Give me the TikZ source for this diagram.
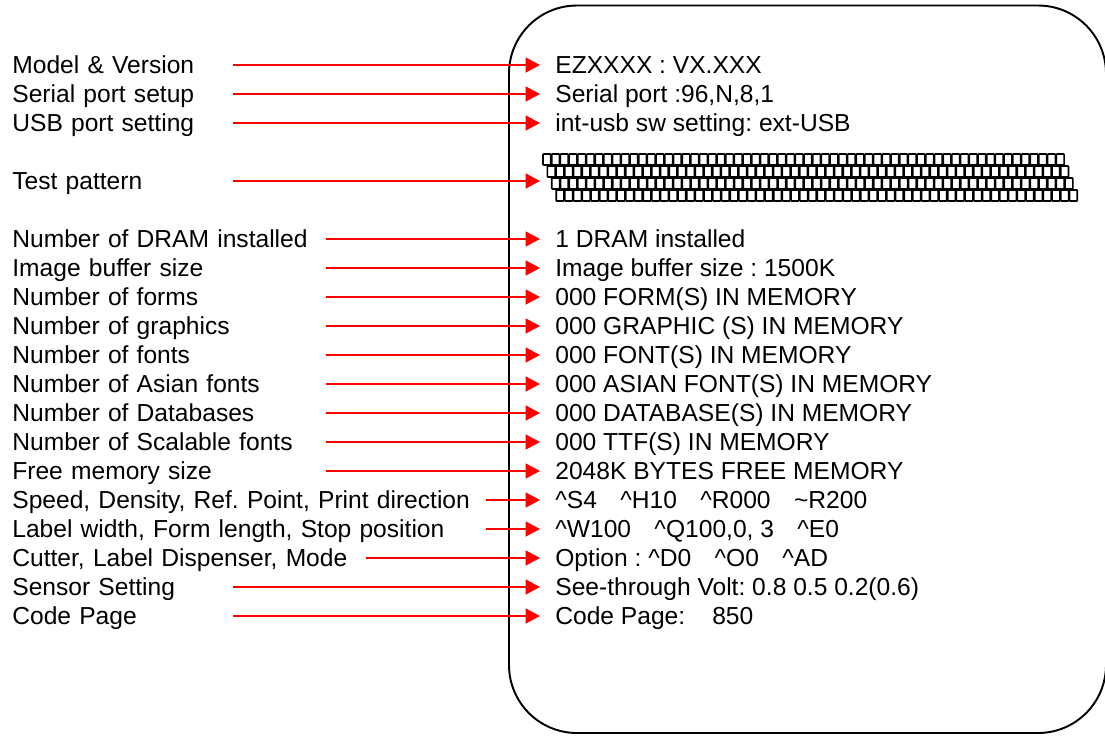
\documentclass[tikz,border=0pt]{standalone}
\usepackage{fontspec}
\setmainfont{Liberation Sans}
\usepackage{tikz}
\usetikzlibrary{arrows.meta,positioning}
\frenchspacing
\definecolor{ArrowRed}{HTML}{FF0000}
\tikzset{
  % Left labels (east anchor = arrow start)
  LB/.style={anchor=west,inner sep=0pt,align=left,
             text height=10pt,text depth=0pt},
  lA/.style={LB,text width=4.4cm},
  lB/.style={LB,text width=6.26cm},
  lC/.style={LB,text width=9.46cm},
  lD/.style={LB,text width=7.06cm},
  % Printed values
  VL/.style={anchor=west,inner sep=0pt,text height=10pt,text depth=0pt},
  % Arrow
  arr/.style={-{Triangle[length=0.29cm,width=0.3cm]},line width=1.1pt,
              draw=ArrowRed,shorten >=0.3cm},
  % Label outline and pattern cells
  box/.style={draw,line width=1.1pt,rounded corners=1.36cm},
  cell/.style={draw,line width=0.95pt,rounded corners=0.4pt}
}
\newcommand{\crt}{\textasciicircum}
\begin{document}
\begin{tikzpicture}[x=0.02cm,y=-0.02cm,
    every node/.style={font=\fontsize{14pt}{16pt}\selectfont}]
  \useasboundingbox (0,0) rectangle (1105,735);
  \draw[box] (509,5.5) rectangle (1106,733);

  \node[lA] (lmodel)  at (12,65)  {Model \& Version};
  \node[lA] (lserial) at (12,94)  {Serial port setup};
  \node[lA] (lusb)    at (12,123) {USB port setting};
  \node[lA] (ltest)   at (12,181) {Test pattern};
  \node[lB] (ldram)   at (12,239) {Number of DRAM installed};
  \node[lB] (lbuf)    at (12,268) {Image buffer size};
  \node[lB] (lform)   at (12,297) {Number of forms};
  \node[lB] (lgraph)  at (12,326) {Number of graphics};
  \node[lB] (lfont)   at (12,355) {Number of fonts};
  \node[lB] (lasian)  at (12,384) {Number of Asian fonts};
  \node[lB] (ldb)     at (12,413) {Number of Databases};
  \node[lB] (lttf)    at (12,442) {Number of Scalable fonts};
  \node[lB] (lfree)   at (12,471) {Free memory size};
  \node[lC] (lspeed)  at (12,500) {Speed, Density, Ref. Point, Print direction};
  \node[lC] (lwidth)  at (12,529) {Label width, Form length, Stop position};
  \node[lD] (lcut)    at (12,558) {Cutter, Label Dispenser, Mode};
  \node[lA] (lsens)   at (12,587) {Sensor Setting};
  \node[lA] (lcode)   at (12,616) {Code Page};

  \node[VL] (vmodel)  at (555,65)  {EZXXXX : VX.XXX};
  \node[VL] (vserial) at (555,94)  {Serial port :96,N,8,1};
  \node[VL] (vusb)    at (555,123) {int-usb sw setting: ext-USB};
  \coordinate (vtest) at (555,181);
  \node[VL] (vdram)   at (555,239) {1 DRAM installed};
  \node[VL] (vbuf)    at (555,268) {Image buffer size : 1500K};
  \node[VL] (vform)   at (555,297) {000 FORM(S) IN MEMORY};
  \node[VL] (vgraph)  at (555,326) {000 GRAPHIC (S) IN MEMORY};
  \node[VL] (vfont)   at (555,355) {000 FONT(S) IN MEMORY};
  \node[VL] (vasian)  at (555,384) {000 ASIAN FONT(S) IN MEMORY};
  \node[VL] (vdb)     at (555,413) {000 DATABASE(S) IN MEMORY};
  \node[VL] (vttf)    at (555,442) {000 TTF(S) IN MEMORY};
  \node[VL] (vfree)   at (555,471) {2048K BYTES FREE MEMORY};
  \node[VL] (vspeed)  at (555,500) {\crt S4\hspace{0.95em}\crt H10\hspace{0.95em}\crt R000\hspace{0.95em}\textasciitilde R200};
  \node[VL] (vwidth)  at (555,529) {\crt W100\hspace{0.95em}\crt Q100,0, 3\hspace{0.95em}\crt E0};
  \node[VL] (vcut)    at (555,558) {Option : \crt D0\hspace{0.95em}\crt O0\hspace{0.95em}\crt AD};
  \node[VL] (vsens)   at (555,587) {See-through Volt: 0.8 0.5 0.2(0.6)};
  \node[VL] (vcode)   at (555,616) {Code Page:\hspace{1.1em}850};

  % test pattern
  \foreach \r in {0,...,3}
    \foreach \c in {0,...,59}
      \draw[cell] ({543+4.4*\r+8.7*\c},{154+12*\r}) rectangle ++(7.8,11);

  \draw[arr] (lmodel.east)  -- (vmodel.west);
  \draw[arr] (lserial.east) -- (vserial.west);
  \draw[arr] (lusb.east)    -- (vusb.west);
  \draw[arr] (ltest.east)   -- (vtest);
  \draw[arr] (ldram.east)   -- (vdram.west);
  \draw[arr] (lbuf.east)    -- (vbuf.west);
  \draw[arr] (lform.east)   -- (vform.west);
  \draw[arr] (lgraph.east)  -- (vgraph.west);
  \draw[arr] (lfont.east)   -- (vfont.west);
  \draw[arr] (lasian.east)  -- (vasian.west);
  \draw[arr] (ldb.east)     -- (vdb.west);
  \draw[arr] (lttf.east)    -- (vttf.west);
  \draw[arr] (lfree.east)   -- (vfree.west);
  \draw[arr] (lspeed.east)  -- (vspeed.west);
  \draw[arr] (lwidth.east)  -- (vwidth.west);
  \draw[arr] (lcut.east)    -- (vcut.west);
  \draw[arr] (lsens.east)   -- (vsens.west);
  \draw[arr] (lcode.east)   -- (vcode.west);
\end{tikzpicture}
\end{document}
